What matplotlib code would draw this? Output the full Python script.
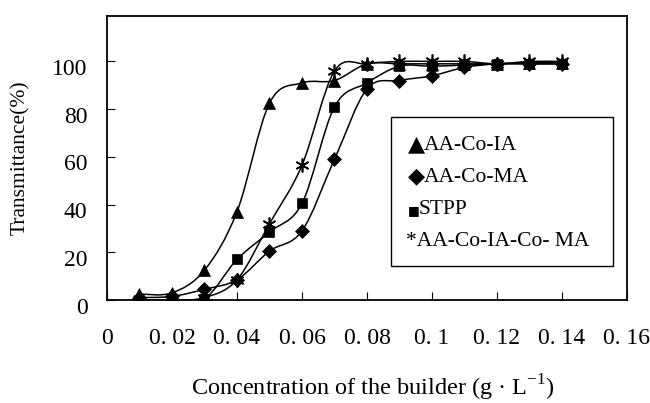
import numpy as np
import matplotlib
matplotlib.use("Agg")
import matplotlib.pyplot as plt
import matplotlib.transforms as mtransforms
from matplotlib.path import Path
from matplotlib.patches import PathPatch, Rectangle

plt.rcParams['font.family'] = ['Liberation Serif', 'DejaVu Sans']

conc = [0.01, 0.02, 0.03, 0.04, 0.05, 0.06, 0.07, 0.08, 0.09, 0.10, 0.11, 0.12, 0.13, 0.14]
aa_co_ia = [2.5, 3, 12.5, 37, 82.5, 91, 92, 99, 99, 99, 99, 99, 99.5, 99.5]
aa_co_ma = [1, 1.5, 4.5, 8.5, 20.5, 29, 59, 88.5, 92, 94, 97.5, 99, 99, 99]
stpp = [0, 0, 0.5, 17, 28.5, 40.5, 81, 91, 98, 98, 98.5, 99, 99, 99]
aa_co_ia_co_ma = [0, 0, 1, 8.5, 32, 56.5, 96, 99, 100, 100, 100, 99, 100, 100]

series = [
    ("AA-Co-IA", aa_co_ia, '^', 9),
    ("AA-Co-MA", aa_co_ma, 'D', 7),
    ("STPP", stpp, 's', 7),
    ("AA-Co-IA-Co-MA", aa_co_ia_co_ma, (6, 2, 0), 10),
]

xticks = [0, 0.02, 0.04, 0.06, 0.08, 0.10, 0.12, 0.14, 0.16]
xticklabels = ["0", "0. 02", "0. 04", "0. 06", "0. 08", "0. 1", "0. 12", "0. 14", "0. 16"]
yticks = [0, 20, 40, 60, 80, 100]
legend_symbols = ["▲", "◆", "■", ""]
legend_names = ["AA-Co-IA", "AA-Co-MA", "STPP", "*AA-Co-IA-Co- MA"]


def smooth_path(x, y):
    x = np.asarray(x, float)
    y = np.asarray(y, float)
    n = len(x)
    verts = [(x[0], y[0])]
    codes = [Path.MOVETO]
    for i in range(n - 1):
        p0 = np.array([x[max(i - 1, 0)], y[max(i - 1, 0)]])
        p1 = np.array([x[i], y[i]])
        p2 = np.array([x[i + 1], y[i + 1]])
        p3 = np.array([x[min(i + 2, n - 1)], y[min(i + 2, n - 1)]])
        c1 = p1 + (p2 - p0) / 6.0
        c2 = p2 - (p3 - p1) / 6.0
        verts += [tuple(c1), tuple(c2), tuple(p2)]
        codes += [Path.CURVE4] * 3
    return Path(verts, codes)


fig = plt.figure(figsize=(6.5, 4.03), dpi=100)
ax = fig.add_axes([0.1646, 0.2556, 0.8, 0.7044])

for name, vals, mk, ms in series:
    ax.add_patch(PathPatch(smooth_path(conc, vals), fill=False, edgecolor='black', lw=1.1))
    ax.plot(conc, vals, linestyle='none', marker=mk, markersize=ms, color='black',
            markeredgewidth=1.2 if mk == (6, 2, 0) else 0.5, zorder=3)

ax.set_xlim(0, 0.16)
ax.set_ylim(0, 119)
ax.set_xticks(xticks)
ax.set_xticklabels(xticklabels, fontsize=17)
ax.set_yticks(yticks)
ax.set_yticklabels([str(v) for v in yticks], fontsize=17)
ax.tick_params(axis='x', direction='in', length=6, width=0.8, pad=20)
ax.tick_params(axis='y', direction='in', length=6, width=0.8, pad=14)
shift = mtransforms.ScaledTranslation(0, -4 / 72, fig.dpi_scale_trans)
for lbl in ax.get_yticklabels():
    lbl.set_transform(lbl.get_transform() + shift)
for s in ax.spines.values():
    s.set_linewidth(1.3)

ax.set_ylabel("Transmittance(%)", fontsize=15.5, labelpad=16)
fig.text(0.574, 0.037, "Concentration of the builder (g · L$^{\\mathregular{-1}}$)", fontsize=17.5,
         ha='center', va='center')

ax.add_patch(Rectangle((0.546, 0.120), 0.427, 0.524, transform=ax.transAxes,
                       facecolor='white', edgecolor='black', lw=1.0, zorder=4))
sym_sizes = [16, 16, 9, 15]
name_x = [0.610, 0.610, 0.600, 0.575]
for sym, nm, ss, nx, yb in zip(legend_symbols, legend_names, sym_sizes, name_x,
                               [0.528, 0.415, 0.303, 0.190]):
    if sym:
        ax.text(0.578, yb, sym, transform=ax.transAxes, fontsize=ss, va='baseline',
                ha='left', family='DejaVu Sans', zorder=5)
    ax.text(nx, yb, nm, transform=ax.transAxes, fontsize=15.5, va='baseline',
            ha='left', zorder=5)

fig.savefig("out.png", dpi=100)
